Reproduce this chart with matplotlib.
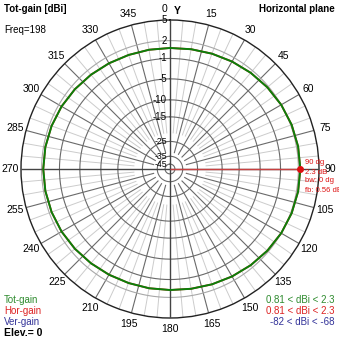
import numpy as np
import matplotlib
matplotlib.use("Agg")
import matplotlib.pyplot as plt

plt.rcParams['font.family'] = ['Liberation Sans Narrow', 'Liberation Sans', 'DejaVu Sans']

# horizontal-plane pattern, azimuth in degrees (0 = north, clockwise)
azimuth = list(range(0, 360, 10))
tot_gain = [0.81, 0.91, 1.09, 1.31, 1.55, 1.79, 2.00, 2.16, 2.26,
            2.30, 2.26, 2.16, 2.00, 1.79, 1.55, 1.31, 1.09, 0.91,
            0.81, 0.82, 0.86, 0.98, 1.14, 1.32, 1.49, 1.62, 1.71,
            1.74, 1.71, 1.62, 1.49, 1.32, 1.14, 0.98, 0.86, 0.82]
hor_gain = tot_gain

ring_db = [5, 2, -1, -5, -10, -15, -25, -35, -45]
ring_labels = ['5', '2', '-1', '-5', '-10', '-15', '-25', '-35', '-45']
angle_labels = list(range(0, 360, 15))

max_az = 90
max_gain = 2.3
marker_lines = ['90 dg', '2.3 dB', 'bw: 0 dg', 'fb: 0.56 dB']

legend_names = ['Tot-gain', 'Hor-gain', 'Ver-gain']
legend_ranges = ['0.81 < dBi < 2.3', '0.81 < dBi < 2.3', '-82 < dBi < -68']
legend_colors = ['#2e8b2e', '#dd2222', '#333399']


def to_r(db):
    # compressed log radial scale, outer ring = 5 dBi
    d = 5 - np.asarray(db, dtype=float)
    return np.exp(-(0.0495 * d + 7.5e-6 * d ** 3))


W = H = 339
fig = plt.figure(figsize=(W / 100, H / 100), dpi=100)
fig.patch.set_facecolor('white')

cx, cy, R = 170, 169, 149
ax = fig.add_axes([(cx - R) / W, (H - cy - R) / H, 2 * R / W, 2 * R / H],
                  projection='polar')
ax.set_theta_zero_location('N')
ax.set_theta_direction(-1)
ax.set_ylim(0, 1)
ax.set_xticks([])
ax.set_yticks([])
ax.grid(False)
ax.set_facecolor('none')
ax.spines['polar'].set_color('#222222')
ax.spines['polar'].set_linewidth(1.0)

# radial spokes: light every 5 deg, dark every 15 deg
fine = [np.deg2rad(a) for a in range(0, 360, 5) if a % 15]
ax.vlines(fine, 0.24, 1, color='#cccccc', lw=0.7, zorder=1)
coarse = [np.deg2rad(a) for a in range(0, 360, 15) if a % 90]
ax.vlines(coarse, 0.11, 1, color='#6a6a6a', lw=0.8, zorder=2)
ax.vlines(np.deg2rad([0, 90, 180, 270]), 0, 1, color='#444444', lw=1.0, zorder=3)

# rings
th = np.linspace(0, 2 * np.pi, 721)
for db, lbl in zip(ring_db, ring_labels):
    r = float(to_r(db))
    if db != 5:
        col = '#a8a8a8' if db == 2 else '#6a6a6a'
        ax.plot(th, np.full_like(th, r), color=col, lw=0.8, zorder=2)
    fs = 6.3 if db < -20 else 7
    ax.annotate(lbl, (0, r), xytext=(-3, 0), textcoords='offset pixels',
                ha='right', va='center', fontsize=fs, color='black', zorder=6)

# angle labels
for a in angle_labels:
    if a == 0:
        ax.annotate('0', (0, 1.075), xytext=(-3, 0), textcoords='offset pixels',
                    ha='right', va='center', fontsize=7.5, annotation_clip=False)
        ax.annotate('Y', (0, 1.075), xytext=(4, -2), textcoords='offset pixels',
                    ha='left', va='center', fontsize=7.5, fontweight='bold',
                    annotation_clip=False)
        continue
    ax.text(np.deg2rad(a), 1.075, str(a), ha='center', va='center',
            fontsize=7.5, clip_on=False)

# patterns
az_rad = np.deg2rad(azimuth + [azimuth[0]])
ax.plot(az_rad, to_r(hor_gain + [hor_gain[0]]), color='#dd2222', lw=1.3, zorder=4)
ax.plot(az_rad, to_r(tot_gain + [tot_gain[0]]), color='#0a800a', lw=1.4, zorder=5)

# max-gain marker
rm = float(to_r(max_gain))
ax.vlines(np.deg2rad(max_az), 0, rm, color='#c84040', lw=1.0, zorder=6)
ax.plot([np.deg2rad(max_az)], [rm], 'o', color='#dd1111', ms=4, zorder=7)
for i, line in enumerate(marker_lines):
    ax.annotate(line, (np.deg2rad(max_az), rm), xytext=(5, 6 - 9 * i),
                textcoords='offset pixels', ha='left', va='center',
                fontsize=5.5, color='#dd1111', zorder=8, annotation_clip=False)

# header and legend texts
fig.text(4 / W, 1 - 9 / H, 'Tot-gain [dBi]', fontsize=7, fontweight='bold',
         ha='left', va='center')
fig.text(4 / W, 1 - 30 / H, 'Freq=198', fontsize=7, ha='left', va='center')
fig.text(335 / W, 1 - 9 / H, 'Horizontal plane', fontsize=7, fontweight='bold',
         ha='right', va='center')

for i, (name, rng, col) in enumerate(zip(legend_names, legend_ranges, legend_colors)):
    y = 300 + 11 * i
    fig.text(4 / W, 1 - y / H, name, fontsize=7, color=col, ha='left', va='center')
    fig.text(335 / W, 1 - y / H, rng, fontsize=7, color=col, ha='right', va='center')
fig.text(4 / W, 1 - 333 / H, 'Elev.= 0', fontsize=7.5, fontweight='bold',
         ha='left', va='center')

fig.savefig('out.png', dpi=100)
